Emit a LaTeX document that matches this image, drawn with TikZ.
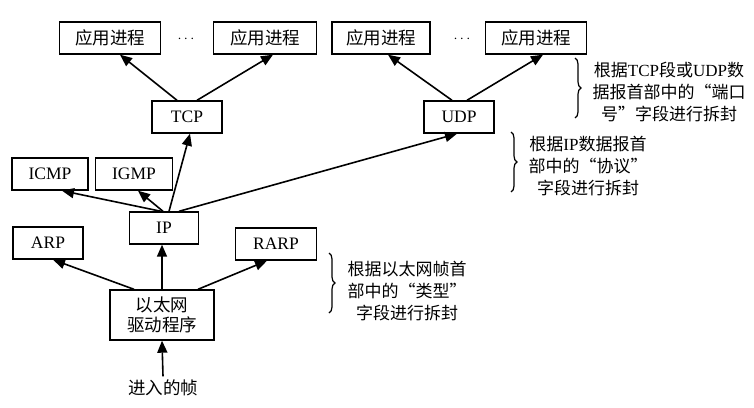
\documentclass[tikz,border=0pt]{standalone}
\usepackage{fontspec}
\setmainfont{Liberation Serif}
\newfontfamily\cjk{Noto Sans CJK SC}
\usetikzlibrary{positioning, arrows.meta, decorations.pathreplacing}

\begin{document}
\begin{tikzpicture}[
    x=1pt, y=-1pt,
    box/.style={rectangle, draw=black, line width=1.4pt, minimum height=32pt,
                inner sep=2pt, align=center, font=\fontsize{17.5}{20}\selectfont},
    note/.style={align=center, font=\fontsize{17}{22}\selectfont},
    arrow/.style={-{Triangle[length=12pt, width=10pt]}, line width=1.6pt},
    brace/.style={decorate, decoration={brace, amplitude=6pt}, line width=1.2pt}
]
    \useasboundingbox (0,0) rectangle (754,407);

    % === Application layer ===
    \node[box, minimum width=101pt] (app1) at (110, 38) {\cjk 应用进程};
    \node[font=\Large] (dots1) at (186, 39) {$\cdots$};
    \node[box, minimum width=103pt] (app2) at (265, 38) {\cjk 应用进程};
    \node[box, minimum width=98pt] (app3) at (381, 38) {\cjk 应用进程};
    \node[font=\Large] (dots2) at (462, 39) {$\cdots$};
    \node[box, minimum width=101pt] (app4) at (536, 38) {\cjk 应用进程};

    % === Transport layer ===
    \node[box, minimum width=70pt] (tcp) at (187, 117) {TCP};
    \node[box, minimum width=70pt] (udp) at (459, 117) {UDP};

    % === Network layer ===
    \node[box, minimum width=76pt] (icmp) at (50, 174) {ICMP};
    \node[box, minimum width=77pt] (igmp) at (134, 174) {IGMP};
    \node[box, minimum width=69pt] (ip) at (164, 228) {IP};
    \node[box, minimum width=70pt] (arp) at (48, 243) {ARP};
    \node[box, minimum width=81pt] (rarp) at (276, 244) {RARP};

    % === Link layer ===
    \node[box, minimum width=104pt, minimum height=50pt] (eth) at (162, 315) {\cjk 以太网\\\cjk 驱动程序};
    \node[font=\fontsize{17.5}{20}\selectfont] (frame) at (163, 388) {\cjk 进入的帧};

    % === Demultiplexing arrows ===
    \draw[arrow] ([xshift=-10pt]tcp.north) -- ([xshift=10pt]app1.south);
    \draw[arrow] ([xshift=10pt]tcp.north) -- ([xshift=8pt]app2.south);
    \draw[arrow] ([xshift=-7pt]udp.north) -- ([xshift=7pt]app3.south);
    \draw[arrow] ([xshift=8pt]udp.north) -- ([xshift=7pt]app4.south);

    \draw[arrow] ([xshift=-3pt]ip.north) -- ([xshift=12pt]icmp.south);
    \draw[arrow] ([xshift=-1pt]ip.north) -- ([xshift=4pt]igmp.south);
    \draw[arrow] ([xshift=5pt]ip.north) -- ([xshift=3pt]tcp.south);
    \draw[arrow] ([xshift=15pt]ip.north) -- ([xshift=-2pt]udp.south);

    \draw[arrow] ([xshift=-28pt]eth.north) -- ([xshift=5pt]arp.south);
    \draw[arrow] (eth.north) -- (eth.north |- ip.south);
    \draw[arrow] ([xshift=36pt]eth.north) -- ([xshift=-9pt]rarp.south);
    \draw[arrow] (frame.north) -- (eth.south);

    % === Notes ===
    \draw[brace] (575, 58) -- (575, 118);
    \node[note] (note1) at (669, 92) {{\cjk 根据}TCP{\cjk 段或}UDP{\cjk 数}\\
        {\cjk 据报首部中的“端口}\\{\cjk 号”字段进行拆封}};

    \draw[brace] (511, 132) -- (511, 192);
    \node[note] (note2) at (588, 166) {{\cjk 根据}IP{\cjk 数据报首}\\
        {\cjk 部中的“协议”}\\{\cjk 字段进行拆封}};

    \draw[brace] (329, 253) -- (329, 313);
    \node[note] (note3) at (407, 291) {{\cjk 根据以太网帧首}\\
        {\cjk 部中的“类型”}\\{\cjk 字段进行拆封}};

\end{tikzpicture}
\end{document}
